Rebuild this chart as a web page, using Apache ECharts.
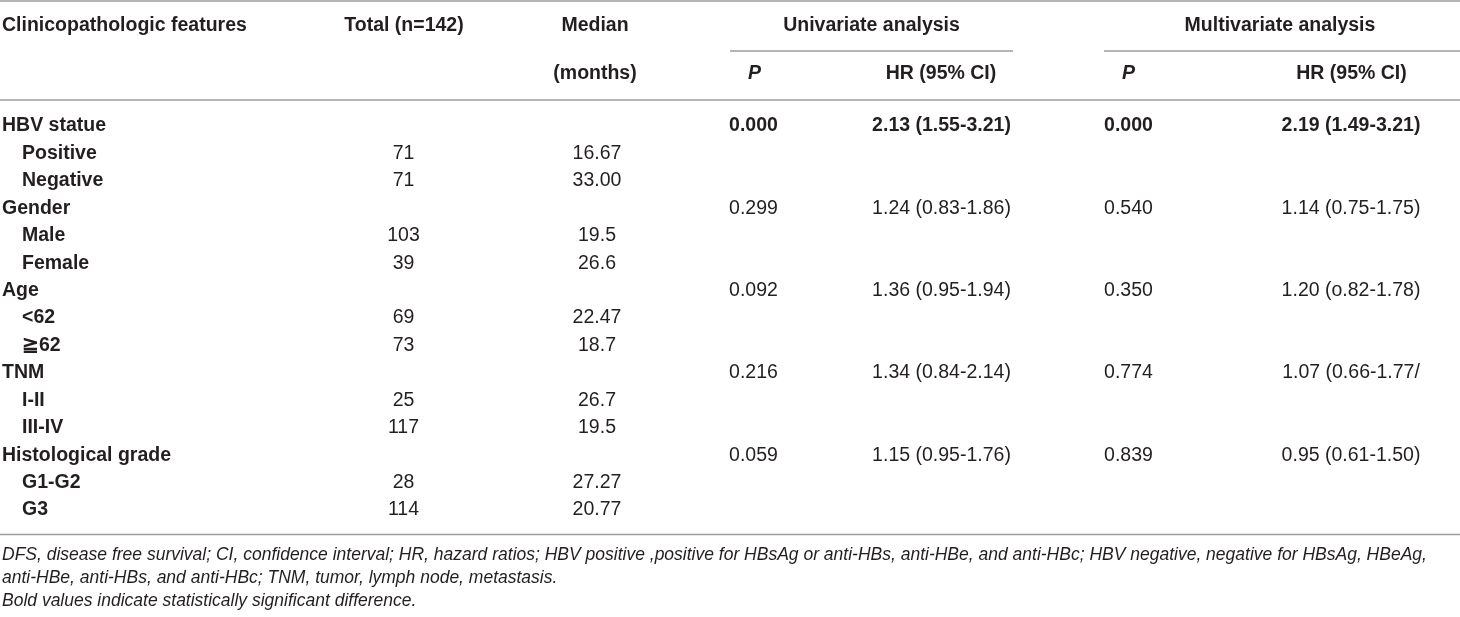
<!DOCTYPE html>
<html>
<head>
<meta charset="utf-8">
<script src="https://cdn.jsdelivr.net/npm/echarts@6/dist/echarts.min.js"></script>
<style>
html,body{margin:0;padding:0;background:#ffffff;}
#chart{width:1460px;height:617px;}
</style>
</head>
<body>
<div id="chart"></div>
<script>
// ---------- DATA ----------
const headerTop = ['Clinicopathologic features', 'Total (n=142)', 'Median', 'Univariate analysis', 'Multivariate analysis'];
const headerSub = ['(months)', 'P', 'HR (95% CI)', 'P', 'HR (95% CI)'];

const groupNames = ['HBV statue', 'Gender', 'Age', 'TNM', 'Histological grade'];
const subgroupNames = [
  ['Positive', 'Negative'],
  ['Male', 'Female'],
  ['<62', '≧62'],
  ['I-II', 'III-IV'],
  ['G1-G2', 'G3']
];
const totals = [[71, 71], [103, 39], [69, 73], [25, 117], [28, 114]];
const medians = [['16.67', '33.00'], ['19.5', '26.6'], ['22.47', '18.7'], ['26.7', '19.5'], ['27.27', '20.77']];
const uniP = ['0.000', '0.299', '0.092', '0.216', '0.059'];
const uniHR = ['2.13 (1.55-3.21)', '1.24 (0.83-1.86)', '1.36 (0.95-1.94)', '1.34 (0.84-2.14)', '1.15 (0.95-1.76)'];
const multiP = ['0.000', '0.540', '0.350', '0.774', '0.839'];
const multiHR = ['2.19 (1.49-3.21)', '1.14 (0.75-1.75)', '1.20 (o.82-1.78)', '1.07 (0.66-1.77/', '0.95 (0.61-1.50)'];
const significant = [true, false, false, false, false];

const footnotes = [
  'DFS, disease free survival; CI, confidence interval; HR, hazard ratios; HBV positive ,positive for HBsAg or anti-HBs, anti-HBe, and anti-HBc; HBV negative, negative for HBsAg, HBeAg,',
  'anti-HBe, anti-HBs, and anti-HBc; TNM, tumor, lymph node, metastasis.',
  'Bold values indicate statistically significant difference.'
];

// ---------- LAYOUT / STYLE ----------
const W = 1460, H = 617;
const FONT = '"Liberation Sans", Arial, Helvetica, sans-serif';
const FS = 19.5;
const TEXT = '#231f20';
const RULE = '#9d9d9d';
const rowTop = 112.3, rowH = 27.43;

// build table rows from the arrays
const rows = [];
groupNames.forEach((g, gi) => {
  rows.push({ level: 0, feature: g, total: '', median: '',
    uniP: uniP[gi], uniHR: uniHR[gi], multiP: multiP[gi], multiHR: multiHR[gi], bold: significant[gi] });
  subgroupNames[gi].forEach((s, si) => {
    rows.push({ level: 1, feature: s, total: String(totals[gi][si]), median: medians[gi][si],
      uniP: '', uniHR: '', multiP: '', multiHR: '', bold: false });
  });
});

const columns = [
  { key: 'feature', x: r => (r.level ? 22 : 2), align: 'left', weight: () => 'bold' },
  { key: 'total', x: () => 403.5, align: 'center', weight: () => 'normal' },
  { key: 'median', x: () => 597, align: 'center', weight: () => 'normal' },
  { key: 'uniP', x: () => 753.5, align: 'center', weight: r => (r.bold ? 'bold' : 'normal') },
  { key: 'uniHR', x: () => 941.5, align: 'center', weight: r => (r.bold ? 'bold' : 'normal') },
  { key: 'multiP', x: () => 1128.5, align: 'center', weight: r => (r.bold ? 'bold' : 'normal') },
  { key: 'multiHR', x: () => 1351, align: 'center', weight: r => (r.bold ? 'bold' : 'normal') }
];

const series = columns.map(col => {
  const items = [];
  rows.forEach((r, i) => {
    if (r[col.key] !== '') {
      items.push({ value: [col.x(r), i], text: r[col.key], weight: col.weight(r) });
    }
  });
  return {
    type: 'custom',
    name: col.key,
    coordinateSystem: 'cartesian2d',
    silent: true,
    data: items,
    renderItem: function (params, api) {
      const it = items[params.dataIndex];
      const p = api.coord([api.value(0), api.value(1)]);
      return {
        type: 'text',
        style: {
          text: it.text,
          x: p[0],
          y: p[1],
          textAlign: col.align,
          textVerticalAlign: 'middle',
          font: it.weight + ' ' + FS + 'px ' + FONT,
          fill: TEXT
        }
      };
    }
  };
});

function txt(text, x, y, align, font) {
  return { type: 'text', silent: true, style: { text: text, x: x, y: y, textAlign: align, textVerticalAlign: 'middle', font: font, fill: TEXT } };
}
function rule(x1, x2, y) {
  return { type: 'line', silent: true, shape: { x1: x1, y1: y, x2: x2, y2: y }, style: { stroke: RULE, lineWidth: 1.5 } };
}

const hb = 'bold ' + FS + 'px ' + FONT;
const hbi = 'italic bold ' + FS + 'px ' + FONT;
const fn = 'italic ' + 17.5 + 'px ' + FONT;

const graphic = [
  rule(0, W, 1),
  rule(730, 1013, 51),
  rule(1104, W, 51),
  rule(0, W, 100),
  rule(0, W, 534.5),
  txt(headerTop[0], 2, 26, 'left', hb),
  txt(headerTop[1], 404, 26, 'center', hb),
  txt(headerTop[2], 595, 26, 'center', hb),
  txt(headerTop[3], 871.5, 26, 'center', hb),
  txt(headerTop[4], 1280, 26, 'center', hb),
  txt(headerSub[0], 595, 74, 'center', hb),
  txt(headerSub[1], 754.5, 74, 'center', hbi),
  txt(headerSub[2], 941, 74, 'center', hb),
  txt(headerSub[3], 1128.5, 74, 'center', hbi),
  txt(headerSub[4], 1351.5, 74, 'center', hb),
  txt(footnotes[0], 2, 555, 'left', fn),
  txt(footnotes[1], 2, 578, 'left', fn),
  txt(footnotes[2], 2, 601, 'left', fn)
];

const chart = echarts.init(document.getElementById('chart'), null, { renderer: 'canvas' });
chart.setOption({
  animation: false,
  backgroundColor: '#ffffff',
  grid: { left: 0, right: 0, top: rowTop, height: rowH * rows.length, containLabel: false },
  xAxis: { type: 'value', min: 0, max: W, show: false },
  yAxis: { type: 'category', inverse: true, show: false, data: rows.map((r, i) => String(i)) },
  graphic: graphic,
  series: series
});
</script>
</body>
</html>
